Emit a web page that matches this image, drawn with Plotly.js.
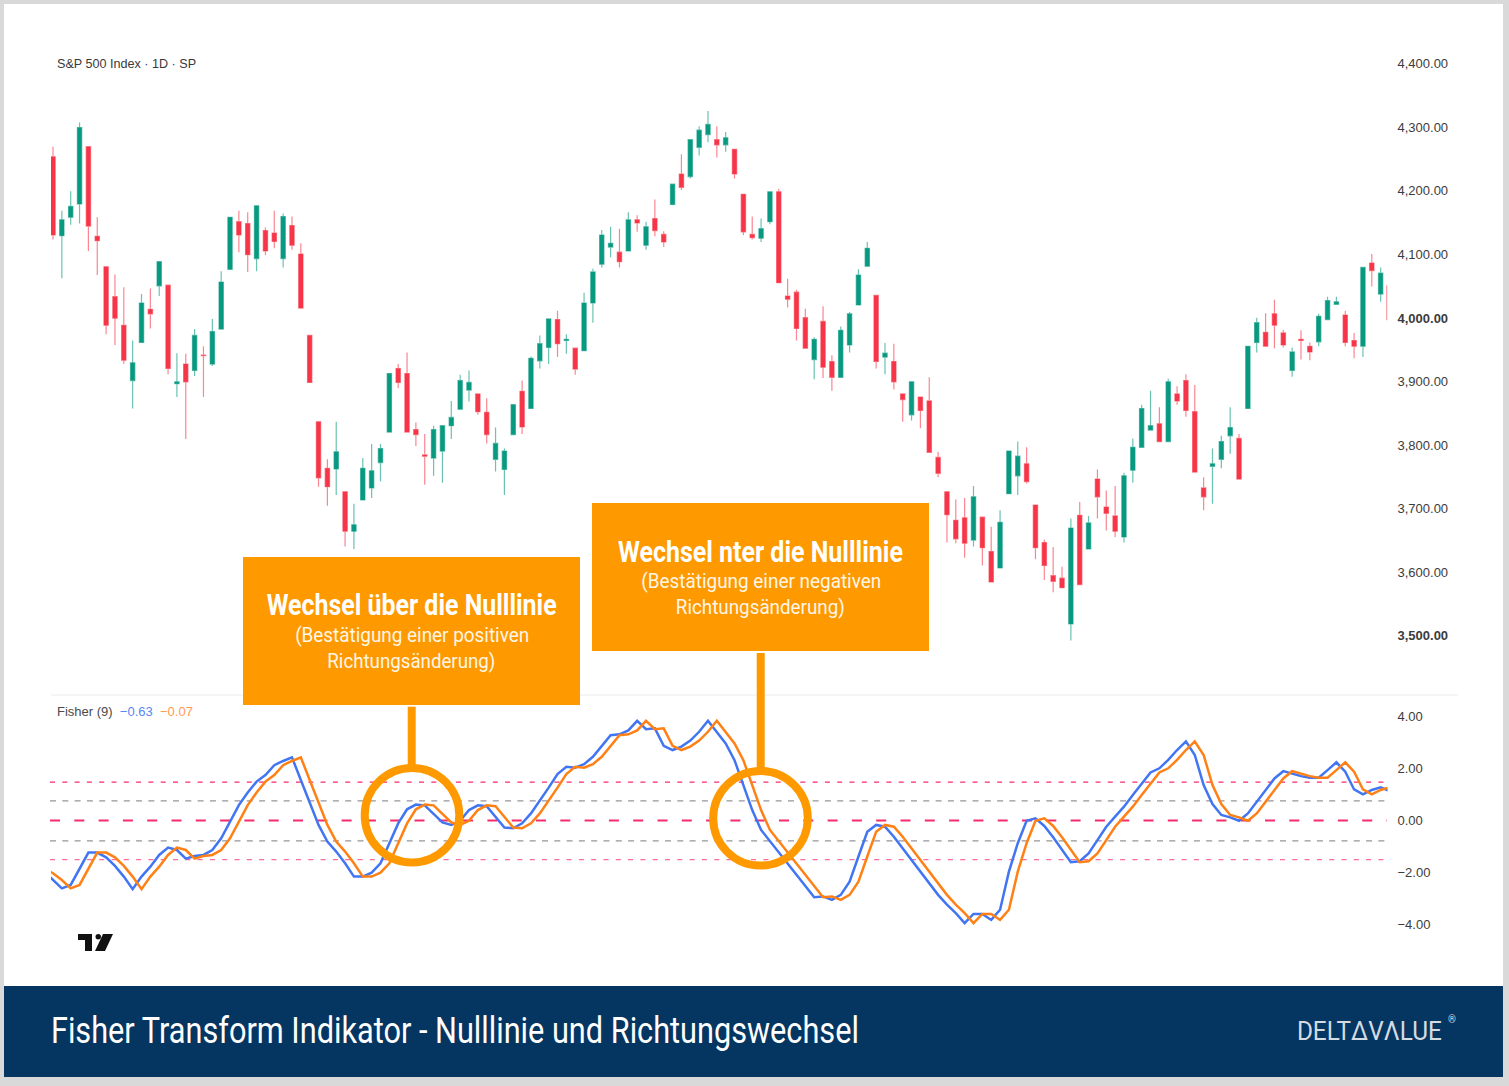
<!DOCTYPE html>
<html>
<head>
<meta charset="utf-8">
<script src="https://cdn.plot.ly/plotly-3.0.1.min.js"></script>
<style>
  html, body { margin: 0; padding: 0; background: #fff; }
</style>
</head>
<body>
<div id="chart" style="width:1509px;height:1086px;"></div>
<script>
// Kurse S&P 500, 1D
const opens = [4252,4128,4157,4178,4268,4127,4079,4032,3987,3900,3960,4012,4049,4050,3895,3926,3916,3940,3926,3981,
  4075,4150,4147,4092,4136,4132,4092,4144,4099,3971,3835,3762,3761,3725,3663,3712,3731,3771,3819,3919,
  3911,3823,3783,3778,3789,3829,3855,3885,3879,3850,3776,3760,3815,3883,3856,3931,3952,3996,3963,3951,
  3947,4022,4083,4110,4102,4104,4153,4113,4155,4130,4177,4225,4221,4267,4287,4279,4271,4264,4193,4130,
  4124,4150,4197,4033,4039,3999,3933,3993,3930,3905,3956,4019,4080,4034,3937,3930,3879,3846,3874,3868,
  3779,3725,3680,3684,3649,3685,3631,3605,3722,3750,3769,3704,3645,3593,3589,3517,3688,3635,3745,3701,
  3687,3654,3759,3795,3822,3832,3804,3879,3900,3851,3731,3765,3776,3813,3809,3856,3960,3976,4005,3975,
  3916,3965,3954,3961,3996,4020,4003,3963,3954,4085,4036];
const highs = [4268,4167,4198,4306,4268,4157,4079,4067,4047,3963,4036,4045,4088,4050,3943,3942,3981,3954,3997,4072,
  4157,4167,4165,4175,4141,4167,4163,4158,4116,3971,3835,3776,3835,3725,3706,3778,3800,3800,3911,3926,
  3944,3834,3816,3829,3830,3868,3909,3916,3879,3872,3826,3793,3862,3900,3938,3971,3997,4010,3973,3951,
  4038,4076,4137,4142,4139,4165,4160,4150,4185,4135,4209,4256,4279,4300,4324,4300,4291,4264,4193,4158,
  4155,4197,4202,4060,4043,4013,3968,4017,3940,3985,4008,4075,4118,4034,3959,3958,3879,3898,3874,3905,
  3788,3725,3713,3715,3734,3685,3670,3696,3789,3804,3795,3704,3650,3638,3607,3683,3709,3687,3760,3727,
  3734,3755,3809,3862,3884,3858,3903,3891,3910,3893,3748,3793,3813,3858,3816,3954,3999,4006,4027,3980,
  3952,3979,3960,4005,4032,4032,4010,3975,4078,4099,4078];
const lows = [4122,4061,4145,4147,4104,4066,3973,3956,3926,3856,3960,3982,4033,3910,3874,3808,3907,3874,3923,3981,
  4075,4102,4071,4072,4097,4108,4078,4106,4014,3897,3733,3703,3720,3639,3635,3712,3715,3741,3819,3888,
  3819,3797,3736,3750,3739,3808,3855,3867,3846,3801,3757,3720,3815,3816,3856,3919,3926,3937,3942,3909,
  3947,3991,4078,4094,4078,4104,4134,4106,4127,4110,4176,4200,4218,4254,4275,4251,4260,4218,4129,4122,
  4118,4146,4054,4015,3963,3951,3902,3904,3884,3905,3944,4019,4080,3919,3910,3886,3835,3837,3825,3787,
  3748,3645,3644,3621,3639,3609,3583,3605,3722,3720,3738,3619,3586,3567,3573,3491,3578,3635,3683,3664,
  3654,3645,3739,3795,3822,3803,3804,3862,3843,3756,3696,3706,3762,3785,3745,3856,3944,3954,3951,3952,
  3906,3933,3932,3954,3996,4020,3954,3935,3937,4048,4024];
const closes = [4129,4153,4174,4298,4143,4120,3987,3998,3932,3928,4022,4005,4087,3919,3898,3898,3971,3939,3977,4055,
  4157,4129,4098,4175,4104,4119,4158,4113,4014,3897,3747,3733,3788,3663,3673,3762,3758,3793,3911,3897,
  3819,3815,3781,3823,3829,3842,3900,3897,3851,3815,3801,3789,3862,3827,3935,3958,3997,3958,3965,3918,
  4022,4071,4129,4116,4087,4153,4148,4142,4136,4118,4209,4204,4279,4294,4303,4271,4282,4225,4134,4125,
  4139,4197,4054,4028,3982,3951,3965,3921,3905,3979,4005,4066,4108,3930,3943,3898,3870,3898,3853,3787,
  3754,3689,3651,3644,3717,3637,3583,3677,3789,3781,3741,3637,3609,3584,3574,3668,3579,3676,3717,3691,
  3663,3750,3795,3856,3829,3804,3898,3868,3853,3756,3717,3769,3804,3826,3745,3954,3991,3954,3987,3956,
  3945,3963,3945,4001,4026,4024,3960,3954,4078,4073,4069];

// letzte Kerze ist abgeschnitten, nur der Docht ist sichtbar
const lastWickPrices = [4050, 3995];

// beginnt einen Balken vor der ersten Kerze, die Linie kommt von links aus dem Bild
const fisherValues = [-1.95,-2.28,-2.60,-2.47,-1.83,-1.23,-1.23,-1.41,-1.74,-2.15,-2.63,-2.15,-1.77,-1.32,-1.04,-1.13,-1.46,-1.36,-1.32,-1.13,-0.68,
  -0.04,0.59,1.07,1.49,1.74,2.12,2.28,2.42,1.55,0.66,-0.17,-0.81,-1.19,-1.64,-2.15,-2.15,-2.00,-1.64,-0.87,-0.11,
  0.43,0.61,0.58,0.27,-0.07,-0.17,-0.01,0.40,0.58,0.55,0.15,-0.27,-0.30,-0.11,0.27,0.75,1.26,1.78,2.06,2.02,
  2.16,2.44,2.86,3.27,3.30,3.45,3.82,3.50,3.53,2.86,2.70,2.83,3.06,3.40,3.82,3.40,2.95,2.31,1.36,0.40,
  -0.36,-0.80,-1.23,-1.65,-2.08,-2.51,-2.94,-2.91,-3.04,-2.85,-2.34,-1.38,-0.43,-0.17,-0.24,-0.62,-1.07,-1.51,-1.96,-2.41,
  -2.85,-3.22,-3.55,-3.93,-3.58,-3.58,-3.81,-3.42,-1.96,-0.87,-0.01,0.08,-0.21,-0.64,-1.13,-1.60,-1.56,-1.26,-0.75,-0.24,
  0.15,0.53,0.98,1.42,1.84,2.00,2.32,2.70,3.03,2.51,1.36,0.63,0.21,0.12,-0.01,0.27,0.72,1.17,1.61,1.89,
  1.78,1.70,1.64,1.64,1.93,2.23,1.87,1.19,1.00,1.17,1.27,1.13];
const triggerValues = [-1.85,-2.02,-2.28,-2.60,-2.47,-1.83,-1.23,-1.23,-1.41,-1.74,-2.15,-2.63,-2.15,-1.77,-1.32,-1.04,-1.13,-1.46,-1.36,-1.32,-1.13,
  -0.68,-0.04,0.59,1.07,1.49,1.74,2.12,2.28,2.42,1.55,0.66,-0.17,-0.81,-1.19,-1.64,-2.15,-2.15,-2.00,-1.64,-0.87,
  -0.11,0.43,0.61,0.58,0.27,-0.07,-0.17,-0.01,0.40,0.58,0.55,0.15,-0.27,-0.30,-0.11,0.27,0.75,1.26,1.78,2.06,
  2.02,2.16,2.44,2.86,3.27,3.30,3.45,3.82,3.50,3.53,2.86,2.70,2.83,3.06,3.40,3.82,3.40,2.95,2.31,1.36,
  0.40,-0.36,-0.80,-1.23,-1.65,-2.08,-2.51,-2.94,-2.91,-3.04,-2.85,-2.34,-1.38,-0.43,-0.17,-0.24,-0.62,-1.07,-1.51,-1.96,
  -2.41,-2.85,-3.22,-3.55,-3.93,-3.58,-3.58,-3.81,-3.42,-1.96,-0.87,-0.01,0.08,-0.21,-0.64,-1.13,-1.60,-1.56,-1.26,-0.75,
  -0.24,0.15,0.53,0.98,1.42,1.84,2.00,2.32,2.70,3.03,2.51,1.36,0.63,0.21,0.12,-0.01,0.27,0.72,1.17,1.61,
  1.89,1.78,1.70,1.64,1.64,1.93,2.23,1.87,1.19,1.00,1.17,1.27];

const priceTicks = [4400,4300,4200,4100,4000,3900,3800,3700,3600,3500];
const priceLabels = ["4,400.00","4,300.00","4,200.00","4,100.00","<b>4,000.00</b>","3,900.00","3,800.00","3,700.00","3,600.00","<b>3,500.00</b>"];
const fisherTicks = [4,2,0,-2,-4];
const pinkLevels = [1.47,-1.5];
const grayLevels = [0.75,-0.78];
const zeroLevel = [0];

const W = 1509, H = 1086;
const PX_PER_BAR = 8.851;

// Pixel -> paper
function fx(x){ return x / W; }
function fy(y){ return 1 - y / H; }
function idxAt(x){ return (x - 53) / PX_PER_BAR; }

const ORANGE = "#ff9900";
const NAVY = "#053561";
const FONT = "Roboto, sans-serif";
const CHART_FONT = "'Liberation Sans', Arial, sans-serif";

const barIdx = opens.map((_, i) => i);
const lineIdx = fisherValues.map((_, i) => i - 1);

var candles = {
    type: "candlestick",
    x: barIdx, open: opens, high: highs, low: lows, close: closes,
    xaxis: "x", yaxis: "y",
    width: 0.66,
    whiskerwidth: 0,
    increasing: { line: { color: "rgba(8,153,129,0.6)", width: 1.2 }, fillcolor: "#089981" },
    decreasing: { line: { color: "rgba(247,53,72,0.6)", width: 1.2 }, fillcolor: "#f73548" },
    hoverinfo: "skip"
};
var lastWick = {
    type: "scatter", mode: "lines",
    x: [150.7, 150.7], y: lastWickPrices,
    xaxis: "x", yaxis: "y",
    line: { color: "rgba(247,53,72,0.6)", width: 1.2 },
    hoverinfo: "skip"
};
var fisherLine = {
    type: "scatter", mode: "lines",
    x: lineIdx, y: fisherValues,
    xaxis: "x2", yaxis: "y2",
    line: { color: "#4275f2", width: 2.5 },
    hoverinfo: "skip"
};
var triggerLine = {
    type: "scatter", mode: "lines",
    x: lineIdx, y: triggerValues,
    xaxis: "x2", yaxis: "y2",
    line: { color: "#ff8015", width: 2.5 },
    hoverinfo: "skip"
};

var shapes = [];

// Rahmen und Fussleiste
shapes.push({ type: "rect", xref: "paper", yref: "paper", x0: 0, x1: 1, y0: fy(4), y1: 1, fillcolor: "#d9d9d9", line: { width: 0 }, layer: "below" });
shapes.push({ type: "rect", xref: "paper", yref: "paper", x0: 0, x1: fx(4), y0: 0, y1: 1, fillcolor: "#d9d9d9", line: { width: 0 }, layer: "below" });
shapes.push({ type: "rect", xref: "paper", yref: "paper", x0: fx(1503), x1: 1, y0: 0, y1: 1, fillcolor: "#d9d9d9", line: { width: 0 }, layer: "below" });
shapes.push({ type: "rect", xref: "paper", yref: "paper", x0: 0, x1: 1, y0: 0, y1: fy(1077), fillcolor: "#d9d9d9", line: { width: 0 }, layer: "below" });
shapes.push({ type: "rect", xref: "paper", yref: "paper", x0: fx(4), x1: fx(1503), y0: fy(1077), y1: fy(986), fillcolor: NAVY, line: { width: 0 }, layer: "below" });

// Trennlinie zwischen den Panels
shapes.push({ type: "line", xref: "paper", yref: "paper", x0: fx(51), x1: fx(1458), y0: fy(695), y1: fy(695), line: { color: "#ececec", width: 1 }, layer: "below" });

// Niveaus im Fisher-Panel
pinkLevels.forEach((lvl, n) => {
    shapes.push({ type: "line", xref: "paper", yref: "y2", x0: fx(50), x1: fx(1387), y0: lvl, y1: lvl, layer: "below",
        line: { color: n === 0 ? "#fb2a6e" : "#fb6a9a", width: 1.2, dash: "5px,7.3px" } });
});
grayLevels.forEach((lvl) => {
    shapes.push({ type: "line", xref: "paper", yref: "y2", x0: fx(50), x1: fx(1387), y0: lvl, y1: lvl, layer: "below",
        line: { color: "#96969c", width: 1.2, dash: "6px,6.3px" } });
});
zeroLevel.forEach((lvl) => {
    shapes.push({ type: "line", xref: "paper", yref: "y2", x0: fx(50), x1: fx(1387), y0: lvl, y1: lvl, layer: "below",
        line: { color: "#f42c6c", width: 2.2, dash: "10px,14.3px" } });
});

// Orange Hinweiskaesten, Stiele und Kreise
function rect(x0, y0, x1, y1){
    shapes.push({ type: "rect", xref: "paper", yref: "paper", x0: fx(x0), x1: fx(x1), y0: fy(y1), y1: fy(y0), fillcolor: ORANGE, line: { width: 0 } });
}
function ring(cx, cy, r){
    shapes.push({ type: "circle", xref: "paper", yref: "paper", x0: fx(cx - r), x1: fx(cx + r), y0: fy(cy + r), y1: fy(cy - r), line: { color: ORANGE, width: 8 } });
}
rect(243, 557, 580, 705);
rect(592, 503, 929, 651);
rect(407.7, 706.7, 415.7, 768);
rect(756.7, 653, 764.7, 771);
ring(412, 815.2, 47.3);
ring(760.5, 818.3, 47.3);

// TradingView Logo
function poly(pts){
    var d = pts.map((p, i) => (i ? "L" : "M") + fx(p[0]) + "," + fy(p[1])).join(" ") + " Z";
    shapes.push({ type: "path", xref: "paper", yref: "paper", path: d, fillcolor: "#111", line: { width: 0 } });
}
poly([[78,934],[92,934],[92,951],[85,951],[85,940],[78,940]]);
poly([[103,934],[113,934],[105,951],[95,951]]);
shapes.push({ type: "circle", xref: "paper", yref: "paper", x0: fx(95.5), x1: fx(101), y0: fy(939.5), y1: fy(934), fillcolor: "#111", line: { width: 0 } });

// Breite in Pixeln fuer schmal gestellte Texte (kein Condensed-Font vorhanden)
var fitWidths = [];
function label(x, y, text, size, color, anchor, family, fit){
    fitWidths.push(fit || 0);
    return { xref: "paper", yref: "paper", x: fx(x), y: fy(y), text: text, showarrow: false,
        xanchor: anchor || "left", yanchor: "middle",
        font: { size: size, color: color, family: family || FONT } };
}

var annotations = [
    label(55, 63.5, "S&amp;P 500 Index · 1D · SP", 12.6, "#3a3a3a", "left", CHART_FONT),
    label(55, 711, "Fisher (9)  <span style='color:#5b86f5'>\u22120.63</span>  <span style='color:#ff9a52'>\u22120.07</span>", 13, "#4a4a4a", "left", CHART_FONT),

    label(411.5, 605, "<b>Wechsel über die Nulllinie</b>", 29, "#ffffff", "center", FONT, 290),
    label(411.5, 635, "(Bestätigung einer positiven", 21, "#fff6e6", "center", FONT, 234),
    label(411.5, 661, "Richtungsänderung)", 21, "#fff6e6", "center", FONT, 168),

    label(760.5, 552, "<b>Wechsel nter die Nulllinie</b>", 29, "#ffffff", "center", FONT, 285),
    label(760.5, 581, "(Bestätigung einer negativen", 21, "#fff6e6", "center", FONT, 240),
    label(760.5, 607, "Richtungsänderung)", 21, "#fff6e6", "center", FONT, 169),

    label(455, 1031, "Fisher Transform Indikator - Nulllinie und Richtungswechsel", 36, "#ffffff", "center", FONT, 808),
    label(1369.5, 1031, "DELT\u0394V\u039BLUE", 26, "#d5dbe2", "center", FONT, 145),
    label(1446, 1019, "®", 10, "#d5dbe2", "left")
];

var axisX = { visible: false, range: [idxAt(51), idxAt(1387.5)], domain: [fx(51), fx(1387.5)], fixedrange: true, showgrid: false, zeroline: false };

var layout = {
    width: W, height: H,
    margin: { l: 0, r: 0, t: 0, b: 0 },
    paper_bgcolor: "#ffffff",
    plot_bgcolor: "rgba(0,0,0,0)",
    showlegend: false,
    xaxis: Object.assign({}, axisX, { anchor: "y", rangeslider: { visible: false } }),
    xaxis2: Object.assign({}, axisX, { anchor: "y2" }),
    yaxis: {
        domain: [fy(695), fy(20)],
        range: [4000 - (695 - 317) / 0.6355, 4000 + (317 - 20) / 0.6355],
        side: "right", anchor: "x",
        tickmode: "array", tickvals: priceTicks, ticktext: priceLabels,
        ticks: "", ticklabelstandoff: 9, ticklabelshift: 1,
        showgrid: false, zeroline: false, showline: false,
        tickfont: { size: 13, color: "#3c3c3c", family: CHART_FONT }
    },
    yaxis2: {
        domain: [fy(975), fy(696)],
        range: [(820.5 - 975) / 26.1, (820.5 - 696) / 26.1],
        side: "right", anchor: "x2",
        tickmode: "array", tickvals: fisherTicks, tickformat: ".2f",
        ticks: "", ticklabelstandoff: 9, ticklabelshift: 0.5,
        showgrid: false, zeroline: false, showline: false,
        tickfont: { size: 13, color: "#3c3c3c", family: CHART_FONT }
    },
    shapes: shapes,
    annotations: annotations
};

Plotly.newPlot("chart", [candles, lastWick, fisherLine, triggerLine], layout, { staticPlot: true, displayModeBar: false }).then((gd) => {
    // Ueberschriften schmal stellen
    gd.querySelectorAll(".annotation-text").forEach((el, i) => {
        if (fitWidths[i]) {
            el.setAttribute("textLength", fitWidths[i]);
            el.setAttribute("lengthAdjust", "spacingAndGlyphs");
        }
    });
});
</script>
</body>
</html>
